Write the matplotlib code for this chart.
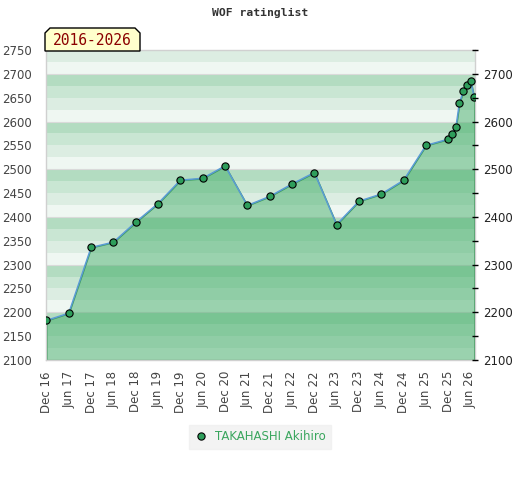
import matplotlib
matplotlib.use("Agg")
import matplotlib.pyplot as plt
import matplotlib.dates as mdates
from matplotlib.patches import Polygon
from matplotlib.lines import Line2D
import datetime as dt

# ---- data ----
dates = ["2016-12", "2017-06", "2017-12", "2018-06", "2018-12", "2019-06",
         "2019-12", "2020-06", "2020-12", "2021-06", "2021-12", "2022-06",
         "2022-12", "2023-06", "2023-12", "2024-06", "2024-12", "2025-06",
         "2025-12", "2026-01", "2026-02", "2026-03", "2026-04", "2026-05",
         "2026-06", "2026-07"]
ratings = [2183, 2198, 2336, 2347, 2389, 2428, 2477, 2481, 2507, 2424,
           2443, 2469, 2493, 2384, 2433, 2448, 2477, 2550, 2563, 2574,
           2588, 2638, 2663, 2676, 2686, 2651]
player = "TAKAHASHI Akihiro"
title = "WOF ratinglist"
period = "2016-2026"
left_ticks = list(range(2100, 2751, 50))
right_ticks = list(range(2100, 2751, 50))
right_labels = [str(v) if v % 100 == 0 else "" for v in right_ticks]
xtick_dates = ["2016-12", "2017-06", "2017-12", "2018-06", "2018-12", "2019-06",
               "2019-12", "2020-06", "2020-12", "2021-06", "2021-12", "2022-06",
               "2022-12", "2023-06", "2023-12", "2024-06", "2024-12", "2025-06",
               "2025-12", "2026-06"]

def to_date(s):
    y, m = s.split("-")
    return dt.datetime(int(y), int(m), 1)

x = [to_date(s) for s in dates]
xt = [to_date(s) for s in xtick_dates]

W, H = 520, 480
fig = plt.figure(figsize=(W / 100, H / 100), dpi=100)
fig.patch.set_facecolor("white")

L, R, T, B = 46, 475, 50, 360
ax = fig.add_axes([L / W, 1 - B / H, (R - L) / W, (B - T) / H])
ymin, ymax = 2100, 2750
ax.set_ylim(ymin, ymax)
ax.set_xlim(x[0] - dt.timedelta(days=4), x[-1] + dt.timedelta(days=6))

# background bands
band_cols = ["#eff7f2", "#dcede2", "#c9e6d3", "#b3dcc1"]  # from N00 upward
for lo in range(ymin, ymax, 25):
    q = (lo % 100) // 25
    ax.axhspan(lo, lo + 25, color=band_cols[q], lw=0, zorder=0)
for v in range(ymin + 100, ymax, 100):
    ax.axhline(v, color="#dadada", lw=0.8, zorder=0.5)

# fill area
ax.fill_between(x, ratings, ymin, facecolor=(52 / 255, 167 / 255, 93 / 255, 0.45),
                edgecolor="#3a9a5a", lw=1, zorder=1)
ax.plot(x, ratings, color="#5b9bd5", lw=1.1, zorder=2)
ax.plot(x, ratings, linestyle="none", marker="o", ms=5.2, mfc="#2e9e5b",
        mec="black", mew=0.8, zorder=3)

for s in ax.spines.values():
    s.set_color("#d0d0d0")
    s.set_linewidth(1)

ax.set_yticks(left_ticks)
ax.tick_params(axis="y", length=0, pad=10, labelsize=8.5, labelcolor="#444444")
ax.set_xticks(xt)
ax.xaxis.set_major_formatter(mdates.DateFormatter("%b %y"))
ax.tick_params(axis="x", length=0, pad=8, labelsize=8.5, labelcolor="#444444",
               labelrotation=90)

ax2 = ax.twinx()
ax2.set_ylim(ymin, ymax)
ax2.set_yticks(right_ticks)
ax2.set_yticklabels(right_labels)
ax2.tick_params(axis="y", direction="inout", length=4, width=1, color="black",
                pad=4, labelsize=8.5, labelcolor="#222222")
for s in ax2.spines.values():
    s.set_visible(False)

# title
fig.text(0.5, 1 - 13 / H, title, ha="center", va="center",
         family="DejaVu Sans Mono", weight="bold", fontsize=8.2, color="#333333")

# period label box
bx0, bx1, by0, by1, c = 45, 140, 28, 51, 5
pts = [(bx0, by1), (bx0, by0 + c), (bx0 + c, by0), (bx1 - c, by0),
       (bx1, by0 + c), (bx1, by1)]
pts = [(px / W, 1 - py / H) for px, py in pts]
fig.patches.append(Polygon(pts, closed=True, facecolor="#ffffcc",
                           edgecolor="black", lw=1, transform=fig.transFigure,
                           zorder=5))
fig.text((bx0 + bx1) / 2 / W, 1 - 40.5 / H, period, ha="center", va="center",
         family="DejaVu Sans Mono", fontsize=10.5, color="#8b0000", zorder=6)

# legend
handle = Line2D([], [], linestyle="none", marker="o", ms=5.2, mfc="#2e9e5b",
                mec="black", mew=0.8)
leg = fig.legend([handle], [player], loc="center", bbox_to_anchor=(0.5, 1 - 437 / H),
                 frameon=True, fontsize=8.5, handletextpad=0.6, borderpad=0.45,
                 handlelength=1.2, fancybox=False)
leg.get_frame().set_facecolor("#f0f0f0")
leg.get_frame().set_edgecolor("#f0f0f0")
for t in leg.get_texts():
    t.set_color("#3aa65e")

fig.savefig("out.png", dpi=100)
